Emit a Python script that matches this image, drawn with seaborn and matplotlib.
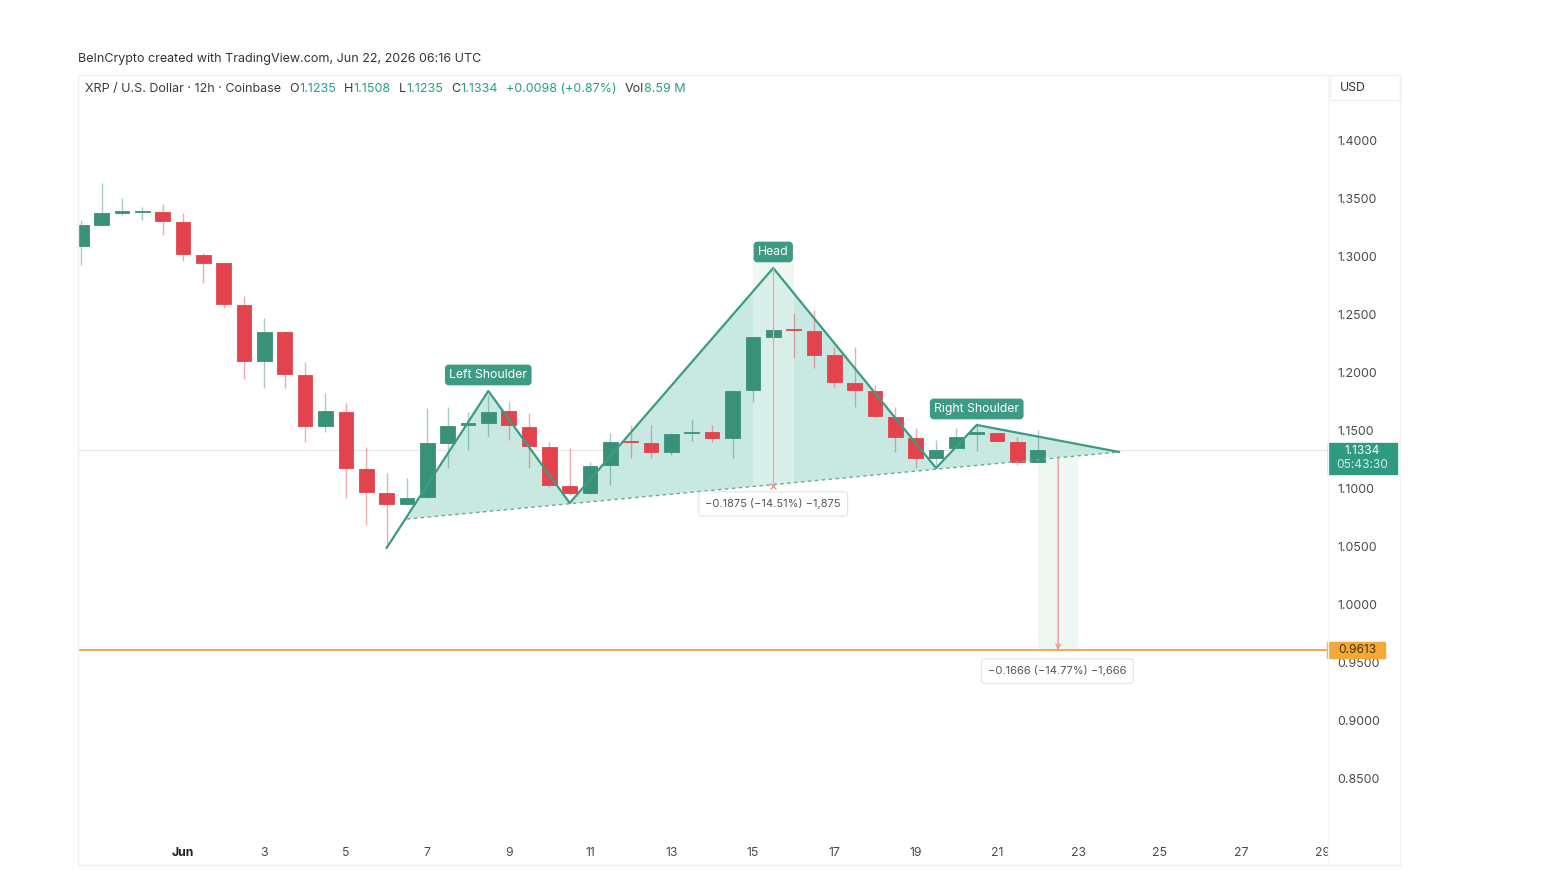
import numpy as np
import pandas as pd
import matplotlib
matplotlib.use("Agg")
import matplotlib.pyplot as plt
import matplotlib.patches as mpatches
from matplotlib.lines import Line2D
from matplotlib.transforms import Bbox, TransformedBbox, blended_transform_factory
import seaborn as sns

# ---------------- data (XRP/USD, 12h candles, Coinbase) ----------------
opens = [1.3095, 1.3276, 1.3383, 1.3388, 1.3390, 1.3299, 1.3017, 1.2946, 1.2586, 1.2103,
         1.2351, 1.1983, 1.1543, 1.1666, 1.1170, 1.0968, 1.0871, 1.0934, 1.1399, 1.1555,
         1.1566, 1.1672, 1.1537, 1.1365, 1.1026, 1.0963, 1.1207, 1.1410, 1.1394, 1.1316,
         1.1483, 1.1494, 1.1437, 1.1853, 1.2313, 1.2372, 1.2365, 1.2155, 1.1917, 1.1845,
         1.1624, 1.1437, 1.1270, 1.1351, 1.1477, 1.1480, 1.1408, 1.1235]
highs = [1.3319, 1.3638, 1.3511, 1.3434, 1.3457, 1.3379, 1.3034, 1.2950, 1.2666, 1.2477,
         1.2360, 1.2097, 1.1825, 1.1739, 1.1365, 1.1135, 1.1092, 1.1696, 1.1704, 1.1667,
         1.1810, 1.1753, 1.1653, 1.1408, 1.1351, 1.1235, 1.1486, 1.1552, 1.1552, 1.1480,
         1.1601, 1.1552, 1.1850, 1.2313, 1.2400, 1.2515, 1.2543, 1.2227, 1.2227, 1.1897,
         1.1710, 1.1523, 1.1422, 1.1523, 1.1566, 1.1490, 1.1451, 1.1508]
lows = [1.2931, 1.3267, 1.3362, 1.3319, 1.3190, 1.2966, 1.2776, 1.2558, 1.1948, 1.1873,
        1.1871, 1.1408, 1.1494, 1.0920, 1.0690, 1.0503, 1.0860, 1.0920, 1.1178, 1.1336,
        1.1452, 1.1422, 1.1178, 1.1020, 1.0948, 1.0960, 1.1034, 1.1264, 1.1264, 1.1293,
        1.1416, 1.1408, 1.1264, 1.1753, 1.2290, 1.2127, 1.2041, 1.1882, 1.1710, 1.1620,
        1.1322, 1.1178, 1.1207, 1.1351, 1.1330, 1.1410, 1.1207, 1.1235]
closes = [1.3276, 1.3382, 1.3387, 1.3392, 1.3310, 1.3023, 1.2951, 1.2595, 1.2103, 1.2351,
          1.1989, 1.1543, 1.1672, 1.1184, 1.0977, 1.0871, 1.0925, 1.1394, 1.1543, 1.1560,
          1.1666, 1.1552, 1.1371, 1.1034, 1.0963, 1.1201, 1.1408, 1.1405, 1.1322, 1.1474,
          1.1486, 1.1437, 1.1847, 1.2313, 1.2371, 1.2368, 1.2155, 1.1920, 1.1853, 1.1629,
          1.1446, 1.1264, 1.1336, 1.1451, 1.1480, 1.1417, 1.1236, 1.1334]
first_bar = "2026-05-29 12:00"

# head & shoulders pivots (day of June, price)
hs_days = [6.0, 8.5, 10.5, 15.5, 19.5, 20.5, 24.0]
hs_prices = [1.0491, 1.1845, 1.0879, 1.2905, 1.1181, 1.1552, 1.1319]
neck_days = [6.5, 24.0]
neck_prices = [1.0741, 1.1319]

head_move = -0.1875
target_move = -0.1666
target_start = 1.1279
target_price = 0.9613
last_price = 1.1334

price_ticks = [1.40, 1.35, 1.30, 1.25, 1.20, 1.15, 1.10, 1.05, 1.00, 0.95, 0.90, 0.85]
day_ticks = list(range(1, 30, 2))

# ---------------- style ----------------
sns.set_theme(style="white")
plt.rcParams["font.family"] = ["Inter", "DejaVu Sans"]

UP = "#3a917a"
DOWN = "#e2434d"
PAT = "#3d9a83"
FILL = "#bfe6dd"
TXT = "#3b3b3b"
VAL = "#2a9d8a"

W, H = 1546, 876
fig = plt.figure(figsize=(W / 100, H / 100), dpi=100)
ax = fig.add_axes([78 / W, 1 - 835 / H, 1250 / W, 735 / H])

times = pd.date_range(first_bar, periods=len(opens), freq="12h")
days = ((times - pd.Timestamp("2026-05-31")).total_seconds() / 86400).to_numpy()
df = pd.DataFrame({"day": days, "open": opens, "high": highs,
                   "low": lows, "close": closes})
df["up"] = df["close"] >= df["open"]
df["color"] = np.where(df["up"], UP, DOWN)

# pattern fill + lines
poly_x = [neck_days[0]] + hs_days[1:] + [neck_days[1], neck_days[0]]
poly_y = [neck_prices[0]] + hs_prices[1:] + [neck_prices[1], neck_prices[0]]
ax.fill(poly_x, poly_y, color=FILL, alpha=0.85, lw=0, zorder=1)

# measurement bands
ax.add_patch(mpatches.Rectangle((15.0, 1.2905 + head_move), 1.0, -head_move + 0.004,
                                color="#e6f4ee", alpha=0.6, lw=0, zorder=1.2))
ax.add_patch(mpatches.Rectangle((22.0, target_price), 1.0, target_start - target_price,
                                color="#eef7f2", lw=0, zorder=1.2))

# faint current price line
ax.axhline(last_price, color="#e6e6e6", lw=0.8, zorder=0.5)

# candles
ax.vlines(df["day"], df["low"], df["high"], colors=df["color"], lw=1.0, alpha=0.45, zorder=2)
body_lo = np.minimum(df["open"], df["close"])
body_h = np.maximum((df["close"] - df["open"]).abs(), 0.0012)
ax.bar(df["day"], body_h, bottom=body_lo, width=0.36, color=df["color"],
       edgecolor=df["color"], linewidth=0.6, zorder=3)

# pattern outline (seaborn)
sns.lineplot(x=hs_days, y=hs_prices, sort=False, estimator=None, color=PAT,
             lw=1.6, ax=ax, zorder=4)
sns.lineplot(x=neck_days, y=neck_prices, sort=False, estimator=None, color="#6aa998",
             lw=1.0, ax=ax, zorder=4)
ax.lines[-1].set_linestyle((0, (2.5, 2.5)))

# head measurement
ax.plot([15.5, 15.5], [1.2905, 1.2905 + head_move], color="#f2a3a3", lw=0.9, zorder=4.5)
ax.plot([15.5], [1.2905 + head_move], marker="x", ms=5, color="#f08c8c", mew=0.9, zorder=4.5)
ax.text(15.5, 1.0871, "\u22120.1875 (\u221214.51%) \u22121,875", ha="center", va="center",
        fontsize=8.0, color="#555555", zorder=6,
        bbox=dict(boxstyle="round,pad=0.6,rounding_size=0.3", fc="white", ec="#e3e3e3", lw=0.8))

# target measurement
ax.annotate("", xy=(22.5, target_price), xytext=(22.5, target_start),
            arrowprops=dict(arrowstyle="->", color="#f08c8c", lw=0.9,
                            shrinkA=0, shrinkB=0, mutation_scale=8), zorder=4.5)
ax.text(22.48, 0.9431, "\u22120.1666 (\u221214.77%) \u22121,666", ha="center", va="center",
        fontsize=8.0, color="#555555", zorder=6,
        bbox=dict(boxstyle="round,pad=0.6,rounding_size=0.3", fc="white", ec="#e3e3e3", lw=0.8))

ax.axhline(target_price, color="#f3a65c", lw=1.4, zorder=4)

# pattern labels
for d, p, s in [(8.5, 1.1983, "Left Shoulder"), (15.5, 1.3043, "Head"),
                (20.5, 1.1690, "Right Shoulder")]:
    ax.text(d, p, s, ha="center", va="center", fontsize=8.8, color="white", zorder=7,
            bbox=dict(boxstyle="round,pad=0.3,rounding_size=0.25", fc=PAT, ec=PAT))

# axes
ax.set_xlim(-1.58, 29.13)
ax.set_ylim(0.80172, 1.43534)
ax.yaxis.tick_right()
ax.set_yticks(price_ticks)
ax.set_yticklabels([f"{v:.4f}" for v in price_ticks])
ax.set_xticks(day_ticks)
ax.set_xticklabels(["Jun" if d == 1 else str(d) for d in day_ticks])
ax.tick_params(axis="y", length=0, pad=7, labelsize=8.9, labelcolor="#4a4a4a")
ax.tick_params(axis="x", length=0, pad=9, labelsize=8.8, labelcolor="#4a4a4a")
ax.get_xticklabels()[0].set_fontweight("bold")
ax.get_xticklabels()[0].set_color("#222222")
clip = TransformedBbox(Bbox([[0, 0], [1328 / W, 1]]), fig.transFigure)
last_lbl = ax.get_xticklabels()[-1]
last_lbl.set_clip_box(clip)
last_lbl.set_clip_on(True)
ax.set_xlabel("")
ax.set_ylabel("")
ax.grid(False)
for sp in ax.spines.values():
    sp.set_visible(False)

# price badges on the right scale
bt = blended_transform_factory(ax.transAxes, ax.transData)
ax.add_patch(mpatches.Rectangle((1.0, 1.1129), 69 / 1250, 0.0268, transform=bt,
                                color="#2f9a80", clip_on=False, zorder=8))
ax.text(1.0276, 1.1330, "1.1334", transform=bt, ha="center", va="center",
        fontsize=8.6, color="white", zorder=9, clip_on=False)
ax.text(1.0276, 1.1205, "05:43:30", transform=bt, ha="center", va="center",
        fontsize=8.6, color="#cfeee6", zorder=9, clip_on=False)
ax.add_patch(mpatches.Rectangle((0.9995, 0.9543), 58 / 1250, 0.0138, transform=bt,
                                color="#f4a838", clip_on=False, zorder=8))
ax.text(1.0232, target_price, "0.9613", transform=bt, ha="center", va="center",
        fontsize=8.6, color="#4a3300", zorder=9, clip_on=False)

# pane frame
fig.add_artist(mpatches.Rectangle((78 / W, 1 - 865 / H), 1322 / W, 790 / H,
                                  transform=fig.transFigure, fill=False,
                                  ec="#f0f0f0", lw=1.0))
fig.add_artist(Line2D([1328 / W, 1328 / W], [1 - 865 / H, 1 - 75 / H],
                      transform=fig.transFigure, color="#f3f3f3", lw=1.0))
fig.add_artist(mpatches.Rectangle((1330 / W, 1 - 100 / H), 70 / W, 25 / H,
                                  transform=fig.transFigure, fill=False,
                                  ec="#f0f0f0", lw=1.0))
fig.text(1340 / W, 1 - 88 / H, "USD", fontsize=8.8, color="#333333", va="center")

# header
fig.text(78 / W, 1 - 59 / H, "BeInCrypto created with TradingView.com, Jun 22, 2026 06:16 UTC",
         fontsize=9.0, color="#333333", va="center")
pieces = [("XRP / U.S. Dollar \u00b7 12h \u00b7 Coinbase", TXT, 0), ("O", TXT, 6),
          ("1.1235", VAL, 0), ("H", TXT, 6), ("1.1508", VAL, 0), ("L", TXT, 6),
          ("1.1235", VAL, 0), ("C", TXT, 6), ("1.1334", VAL, 0),
          ("+0.0098 (+0.87%)", VAL, 6), ("Vol", TXT, 6), ("8.59 M", VAL, 0)]
prev = None
for s, c, gap in pieces:
    if prev is None:
        prev = fig.text(85 / W, 1 - 95 / H, s, fontsize=9.0, color=c, va="bottom")
    else:
        prev = ax.annotate(s, xy=(1, 0), xycoords=prev, xytext=(gap, 0),
                           textcoords="offset points", fontsize=9.0, color=c,
                           va="bottom", ha="left", annotation_clip=False)

fig.savefig("out.png", dpi=100, facecolor="white")
